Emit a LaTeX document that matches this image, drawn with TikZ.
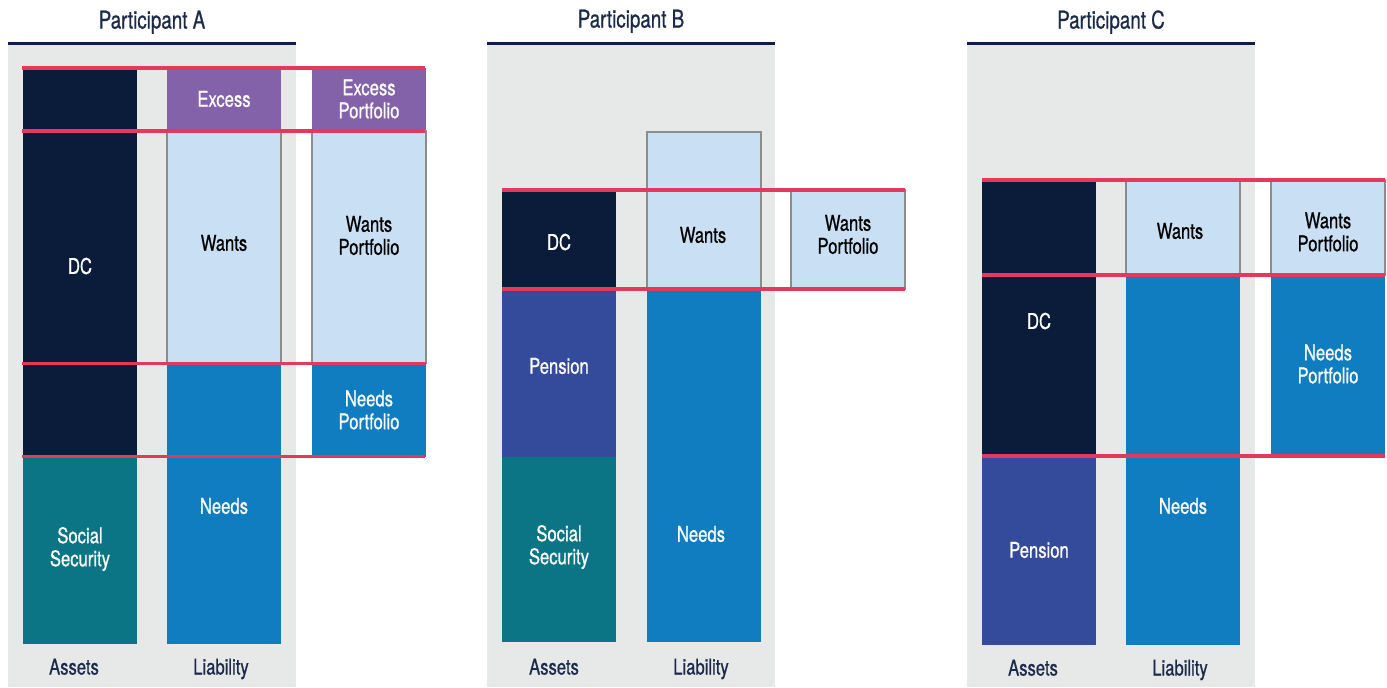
\documentclass[tikz,border=0pt]{standalone}
\usepackage{fontspec}
\setmainfont{TeX Gyre Heros}[FakeStretch=0.77,FakeBold=0.7]
\definecolor{panelgray}{HTML}{E7E8E8}
\definecolor{titlenavy}{HTML}{1B2A4A}
\definecolor{rulenavy}{HTML}{0F1F3F}
\definecolor{dcnavy}{HTML}{0B1C3B}
\definecolor{ssteal}{HTML}{0B7585}
\definecolor{needsblue}{HTML}{107DC1}
\definecolor{wantsblue}{HTML}{C8DFF4}
\definecolor{excesspurple}{HTML}{8462AA}
\definecolor{pensionblue}{HTML}{344A9B}
\definecolor{levelred}{HTML}{E4385C}
\definecolor{edgegray}{HTML}{8C8C8C}
\tikzset{
  panel/.style={fill=panelgray},
  headrule/.style={draw=rulenavy, line width=2pt},
  level/.style={draw=levelred, line width=2.7pt},
  wantsbox/.style={fill=wantsblue, draw=edgegray, line width=0.8pt},
  title/.style={text=titlenavy, anchor=base, font=\fontsize{18.3}{20}\selectfont, inner sep=0pt},
  axis/.style={text=titlenavy, anchor=base, font=\fontsize{16.2}{18}\selectfont, inner sep=0pt},
  light/.style={text=white, align=center, font=\fontsize{16.2}{17.25}\selectfont, inner sep=0pt},
  dark/.style={text=black, align=center, font=\fontsize{16.2}{17.25}\selectfont, inner sep=0pt},
}
\begin{document}
\begin{tikzpicture}[x=0.75pt,y=-0.75pt]
\useasboundingbox (0,0) rectangle (1387,687);

% ---------------- Participant A ----------------
\fill[panel] (8,44) rectangle (296,687);
\draw[headrule] (8,43.3) -- (296,43.3);
\node[title] (tA) at (152,28.5) {Participant A};
% assets
\fill[dcnavy] (23,68) rectangle (137,457);
\fill[ssteal] (23,457) rectangle (137,644);
% liability
\fill[excesspurple] (167,68) rectangle (281,131);
\filldraw[wantsbox] (167,131) rectangle (281,363);
\fill[needsblue] (167,363) rectangle (281,644);
% portfolios
\fill[excesspurple] (312,68) rectangle (426,131);
\filldraw[wantsbox] (312,131) rectangle (426,363);
\fill[needsblue] (312,363) rectangle (426,457);
% level lines
\draw[level] (22,68) -- (425,68);
\draw[level] (22,131) -- (425,131);
\draw[level] (22,363.5) -- (425,363.5);
\draw[level] (22,456.5) -- (425,456.5);
% labels
\node[light] (aDC) at (80,266) {DC};
\node[light] (aSS) at (80,549) {Social\\Security};
\node[light] (aEx) at (224,99) {Excess};
\node[dark]  (aWa) at (224,243) {Wants};
\node[light] (aNe) at (224,506) {Needs};
\node[light] (aEP) at (369,99) {Excess\\Portfolio};
\node[dark]  (aWP) at (369,235.5) {Wants\\Portfolio};
\node[light] (aNP) at (369,410) {Needs\\Portfolio};
\node[axis] (aAs) at (74,674.5) {Assets};
\node[axis] (aLi) at (221,674.5) {Liability};

% ---------------- Participant B ----------------
\fill[panel] (487,44) rectangle (775,687);
\draw[headrule] (487,43.3) -- (775,43.3);
\node[title] (tB) at (631,27.5) {Participant B};
% assets
\fill[dcnavy] (502,190) rectangle (616,289);
\fill[pensionblue] (502,289) rectangle (616,457);
\fill[ssteal] (502,457) rectangle (616,642);
% liability
\filldraw[wantsbox] (647,132) rectangle (761,289);
\fill[needsblue] (647,289) rectangle (761,642);
% portfolio
\filldraw[wantsbox] (791,190) rectangle (905,289);
% level lines
\draw[level] (502,190) -- (905,190);
\draw[level] (502,289) -- (905,289);
% labels
\node[light] (bDC) at (559,242) {DC};
\node[light] (bPe) at (559,366) {Pension};
\node[light] (bSS) at (559,547) {Social\\Security};
\node[dark]  (bWa) at (703,235) {Wants};
\node[light] (bNe) at (701,534) {Needs};
\node[dark]  (bWP) at (848,234.5) {Wants\\Portfolio};
\node[axis] (bAs) at (554,674.5) {Assets};
\node[axis] (bLi) at (701,674.5) {Liability};

% ---------------- Participant C ----------------
\fill[panel] (967,44) rectangle (1255,687);
\draw[headrule] (967,43.3) -- (1255,43.3);
\node[title] (tC) at (1111,28.5) {Participant C};
% assets
\fill[dcnavy] (982,180) rectangle (1096,456);
\fill[pensionblue] (982,456) rectangle (1096,645);
% liability
\filldraw[wantsbox] (1126,180) rectangle (1240,275);
\fill[needsblue] (1126,275) rectangle (1240,645);
% portfolios
\filldraw[wantsbox] (1271,180) rectangle (1385,275);
\fill[needsblue] (1271,275) rectangle (1385,456);
% level lines
\draw[level] (982,180) -- (1385,180);
\draw[level] (982,275) -- (1385,275);
\draw[level] (982,456) -- (1385,456);
% labels
\node[light] (cDC) at (1039,321) {DC};
\node[light] (cPe) at (1039,550) {Pension};
\node[dark]  (cWa) at (1180,231) {Wants};
\node[light] (cNe) at (1183,506) {Needs};
\node[dark]  (cWP) at (1328,232) {Wants\\Portfolio};
\node[light] (cNP) at (1328,364) {Needs\\Portfolio};
\node[axis] (cAs) at (1033,675.5) {Assets};
\node[axis] (cLi) at (1180,675.5) {Liability};
\end{tikzpicture}
\end{document}
